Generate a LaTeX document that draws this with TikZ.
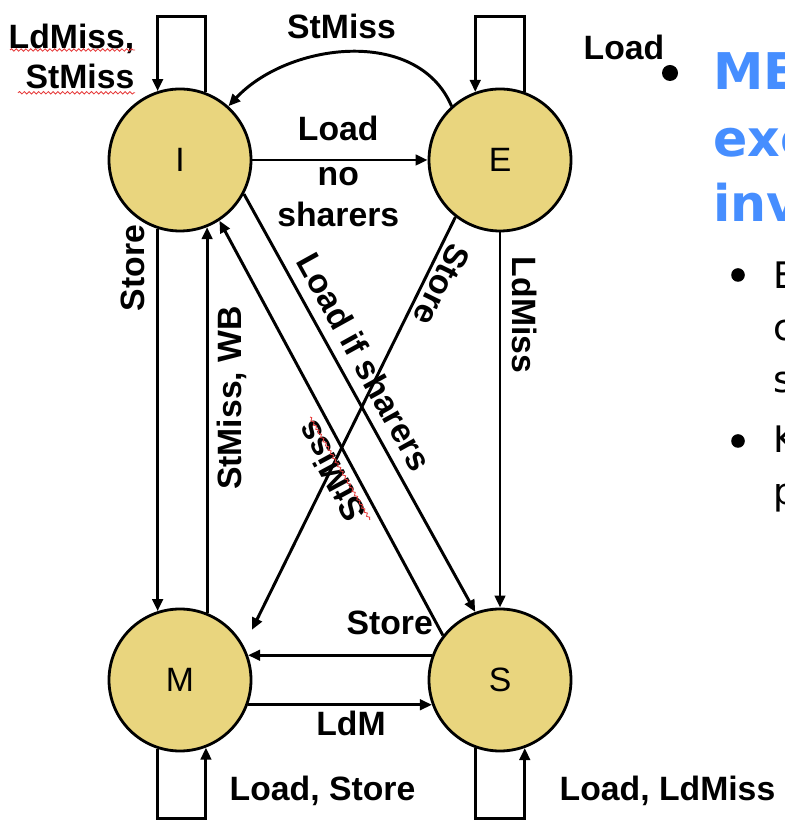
\documentclass[tikz,border=0pt]{standalone}
\usepackage{fontspec}
\setmainfont{Liberation Sans}
\newfontfamily\slidefont{DejaVu Sans}
\usepackage{tikz}
\usetikzlibrary{arrows.meta,positioning,decorations.pathmorphing}
\definecolor{stategold}{RGB}{233,213,126}
\definecolor{slideblue}{RGB}{70,142,255}
\definecolor{spellred}{RGB}{230,60,60}

\begin{document}
\begin{tikzpicture}[
  state/.style={circle, draw, line width=2pt, fill=stategold, minimum size=3.55cm, inner sep=0pt, font=\fontsize{24}{28}\selectfont},
  edge/.style={-{Triangle[length=3mm, width=2.6mm]}, line width=2.1pt},
  lbl/.style={font=\fontsize{24}{29}\selectfont\bfseries, inner sep=1pt, align=center},
  spell/.style={draw=spellred, line width=0.6pt, decorate, decoration={snake, amplitude=0.3mm, segment length=1.2mm}},
  headtxt/.style={font=\slidefont\bfseries\fontsize{36}{40}\selectfont, text=slideblue, anchor=base west, inner sep=0pt},
  bodytxt/.style={font=\slidefont\fontsize{26}{31}\selectfont, anchor=base west, inner sep=0pt}
]
\useasboundingbox (0,0) rectangle (19.6,20.5);
\clip (0,0) rectangle (19.6,20.5);

% states
\node[state] (I) at (4.5,16.5) {I};
\node[state] (E) at (12.5,16.5) {E};
\node[state] (M) at (4.5,3.5) {M};
\node[state] (S) at (12.5,3.5) {S};

% self loops
\draw[edge] (I.69) -- ++(0,1.89) -| (I.108);
\draw[edge] (E.70) -- ++(0,1.88) -| (E.110);
\draw[edge] (M.-108) -- ++(0,-1.75) -| (M.-69);
\draw[edge] (S.-110) -- ++(0,-1.77) -| (S.-70);

\node[lbl, align=right, anchor=north east] (iloop) at (3.4,19.95) {LdMiss,\\StMiss};
\node[lbl, anchor=base west] (mloop) at (5.7,0.5) {Load, Store};
\node[lbl, anchor=base west] (sloop) at (13.95,0.5) {Load, LdMiss};
\node[lbl, anchor=base west] (eload) at (14.55,19.0) {Load};

% transitions between states
\draw[edge] (I) -- node[lbl, above=11.6pt, pos=0.49] {Load} node[lbl, below=3.3pt, pos=0.49] {no\\sharers} (E);
\draw[edge] (E.132) to[out=113, in=47] node[lbl, above=8pt, pos=0.53] {StMiss} (I.48);
\draw[edge] (I.-28) -- node[lbl, sloped, above=6.6pt, pos=0.43] {Load if sharers} (S.110);
\draw[edge] (S.142) -- node[lbl, sloped, allow upside down, above=4pt, pos=0.42] (stmissdiag) {StMiss} (I.-57);
\draw[edge, shorten >=4.5mm] (E.-128) -- node[lbl, sloped, allow upside down, above=2.3pt, pos=0.14] {Store} (M.28);
\draw[edge] (I.-108) -- (M.108);
\node[lbl, rotate=90] (istore) at (3.325,13.8) {Store};
\draw[edge] (M.68) -- node[lbl, sloped, below=5.2pt, pos=0.557] {StMiss, WB} (I.-68);
\draw[edge] (E.-90) -- node[lbl, sloped, allow upside down, above=6.6pt, pos=0.22] {LdMiss} (S.90);
\draw[edge] (S.160) -- node[lbl, above=12.3pt, pos=0.23] {Store} (M.20);
\draw[edge] (M.-20) -- node[lbl, below=2.5pt, pos=0.56] {LdM} (S.-160);

% spell-check marks
\draw[spell] (0.25,19.25) -- (3.375,19.25);
\draw[spell] (0.45,18.18) -- (3.375,18.18);
\draw[spell] (7.75,10.075) -- (9.25,7.5);

% slide text at the right edge
\fill (16.75,18.675) circle (0.2);
\node[headtxt] (head1) at (17.82,18.25) {ME};
\node[headtxt] (head2) at (17.82,16.575) {exc};
\node[headtxt] (head3) at (17.82,14.95) {inv};
\fill (18.45,13.625) circle (0.17);
\node[bodytxt] (body1) at (19.32,13.275) {E};
\node[bodytxt] (body2) at (19.32,11.975) {c};
\node[bodytxt] (body3) at (19.32,10.675) {s};
\fill (18.45,9.475) circle (0.17);
\node[bodytxt] (body4) at (19.32,9.175) {K};
\node[bodytxt] (body5) at (19.32,7.875) {p};
\end{tikzpicture}
\end{document}
